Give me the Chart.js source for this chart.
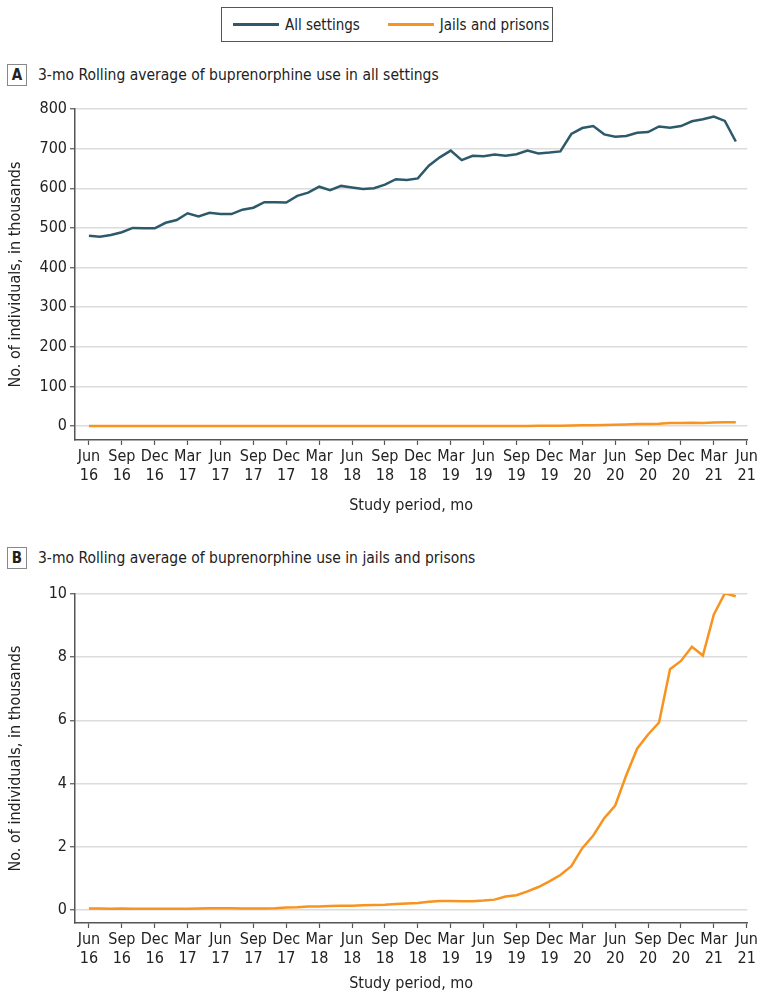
<!DOCTYPE html>
<html>
<head>
<meta charset="utf-8">
<script src="https://cdn.jsdelivr.net/npm/chart.js@4.4.0/dist/chart.umd.min.js"></script>
<style>
  html, body { margin: 0; padding: 0; background: #fff; }
  body { width: 760px; height: 993px; position: relative; overflow: hidden;
         font-family: "Liberation Sans Narrow", "DejaVu Sans Condensed", "Roboto", sans-serif; color: #222; }
  #legend { position: absolute; left: 221px; top: 7px; width: 330px; height: 33px; white-space: nowrap;
            border: 1.5px solid #555; display: flex; align-items: center; font-size: 15px; }
  .sw { display: inline-block; width: 46px; height: 3px; margin-right: 6px; }
  .item { display: flex; align-items: center; white-space: nowrap; }
  .ptitle { position: absolute; left: 7px; display: flex; align-items: center; font-size: 15.5px; white-space: nowrap; }
  .ptitle .box { width: 18px; height: 20px; border: 1.5px solid #888; font-weight: bold;
                 display: flex; align-items: center; justify-content: center; margin-right: 11px; font-size: 15px; }
  canvas { position: absolute; left: 0; }
</style>
</head>
<body>
<div id="legend">
  <span class="item" style="margin-left:11px"><span class="sw" style="background:#2d5a6a"></span>All settings</span>
  <span class="item" style="margin-left:28px"><span class="sw" style="background:#f7931e"></span>Jails and prisons</span>
</div>
<div class="ptitle" style="top:64px"><span class="box">A</span><span>3-mo Rolling average of buprenorphine use in all settings</span></div>
<div class="ptitle" style="top:547px"><span class="box">B</span><span>3-mo Rolling average of buprenorphine use in jails and prisons</span></div>
<div style="position:absolute;left:0;top:95px;width:760px;height:420px"><canvas id="cA"></canvas></div>
<div style="position:absolute;left:0;top:580px;width:760px;height:413px"><canvas id="cB"></canvas></div>
<script>
// Monthly data, Jun 2016 – May 2021 (thousands of individuals)
const months = ['Jun 16','Jul 16','Aug 16','Sep 16','Oct 16','Nov 16','Dec 16','Jan 17','Feb 17','Mar 17','Apr 17','May 17',
  'Jun 17','Jul 17','Aug 17','Sep 17','Oct 17','Nov 17','Dec 17','Jan 18','Feb 18','Mar 18','Apr 18','May 18',
  'Jun 18','Jul 18','Aug 18','Sep 18','Oct 18','Nov 18','Dec 18','Jan 19','Feb 19','Mar 19','Apr 19','May 19',
  'Jun 19','Jul 19','Aug 19','Sep 19','Oct 19','Nov 19','Dec 19','Jan 20','Feb 20','Mar 20','Apr 20','May 20',
  'Jun 20','Jul 20','Aug 20','Sep 20','Oct 20','Nov 20','Dec 20','Jan 21','Feb 21','Mar 21','Apr 21','May 21'];
const allSettings = [480,478,482,489,500,499,499,513,520,537,529,538,
  535,535,546,551,565,565,564,581,589,604,595,606,
  602,598,600,609,623,621,625,657,678,695,671,682,
  681,685,682,686,695,688,690,693,737,752,757,736,
  730,732,740,742,756,753,757,769,774,781,770,718];
const jailsPrisons = [0.04,0.04,0.03,0.04,0.03,0.03,0.03,0.03,0.03,0.03,0.04,0.05,
  0.05,0.05,0.04,0.04,0.04,0.05,0.07,0.08,0.10,0.10,0.12,0.13,
  0.13,0.14,0.15,0.16,0.18,0.20,0.21,0.25,0.28,0.28,0.27,0.27,
  0.29,0.32,0.42,0.46,0.58,0.72,0.90,1.10,1.38,1.95,2.35,2.90,
  3.30,4.25,5.10,5.55,5.93,7.62,7.88,8.33,8.05,9.35,10.02,9.93];
const tickMonths = ['Jun','Sep','Dec','Mar','Jun','Sep','Dec','Mar','Jun','Sep','Dec','Mar','Jun','Sep','Dec','Mar','Jun','Sep','Dec','Mar','Jun'];
const tickYears  = ['16','16','16','17','17','17','17','18','18','18','18','19','19','19','19','20','20','20','20','21','21'];
const yTicksA = [0,100,200,300,400,500,600,700,800];
const yTicksB = [0,2,4,6,8,10];

const FONT = '"Liberation Sans Narrow", "DejaVu Sans Condensed", sans-serif';
const DARK = '#2d5a6a', ORANGE = '#f7931e';

function pts(arr) { return arr.map((v, i) => ({ x: i, y: v })); }

function makeChart(id, datasets, yMin, yMax, yTicks, xh) {
  return new Chart(document.getElementById(id), {
    type: 'line',
    data: { datasets },
    options: {
      responsive: true, maintainAspectRatio: false, animation: false,
      layout: { padding: { top: 14, right: 8, bottom: 0, left: 0 } },
      plugins: { legend: { display: false }, tooltip: { enabled: false } },
      elements: { point: { radius: 0 }, line: { borderWidth: 2.5, tension: 0 } },
      scales: {
        x: {
          type: 'linear', min: -1.27, max: 60.05,
          afterBuildTicks: s => { s.ticks = tickMonths.map((m, i) => ({ value: i * 3 })); },
          afterFit: s => { s.height = xh; },
          ticks: { autoSkip: false, maxRotation: 0, padding: 2, color: '#222',
                   font: { family: FONT, size: 16, lineHeight: 1.2 },
                   callback: (v, i) => [tickMonths[i], tickYears[i]] },
          grid: { drawOnChartArea: false, drawTicks: true, tickLength: 5, tickColor: '#555', tickWidth: 1.2 },
          border: { display: true, color: '#555', width: 1.5 },
          title: { display: true, text: 'Study period, mo', color: '#222', padding: 0,
                   font: { family: FONT, size: 16 } }
        },
        y: {
          min: yMin, max: yMax,
          afterBuildTicks: s => { s.ticks = yTicks.map(v => ({ value: v })); },
          afterFit: s => { s.width = 75; },
          ticks: { padding: 3, color: '#222', font: { family: FONT, size: 16 } },
          grid: { color: '#dcdcdc', lineWidth: 1.5, tickLength: 5, tickColor: '#555', tickWidth: 1.2 },
          border: { display: true, color: '#555', width: 1.5 },
          title: { display: true, text: 'No. of individuals, in thousands', color: '#222',
                   padding: { top: 6, bottom: 0 }, font: { family: FONT, size: 16 } }
        }
      }
    }
  });
}

makeChart('cA', [
  { label: 'All settings', data: pts(allSettings), borderColor: DARK, backgroundColor: DARK },
  { label: 'Jails and prisons', data: pts(jailsPrisons), borderColor: ORANGE, backgroundColor: ORANGE }
], -35, 800, yTicksA, 75);

makeChart('cB', [
  { label: 'Jails and prisons', data: pts(jailsPrisons), borderColor: ORANGE, backgroundColor: ORANGE }
], -0.42, 10, yTicksB, 70);
</script>
</body>
</html>
